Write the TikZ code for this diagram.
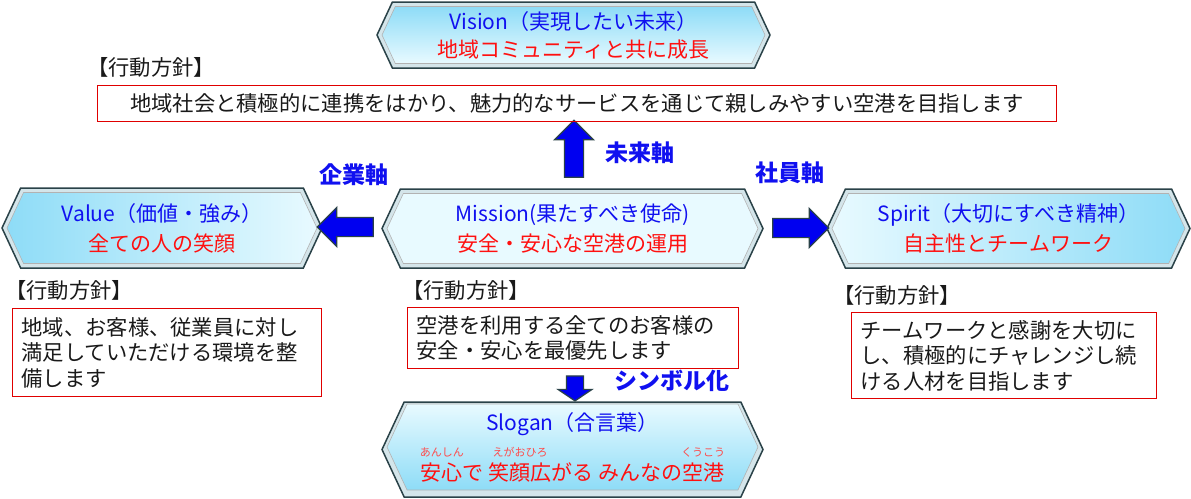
\documentclass[tikz,border=0pt]{standalone}
\usepackage{fontspec}
\setmainfont{Noto Sans CJK JP}
\usetikzlibrary{shapes.symbols, shapes.arrows, positioning}

\definecolor{hexblue}{HTML}{8EDCF7}
\definecolor{hexlight}{HTML}{E8FAFF}
\definecolor{bevel}{HTML}{D4E5EA}
\definecolor{rimdark}{HTML}{2A4248}
\definecolor{txtblue}{HTML}{1010F0}
\definecolor{txtred}{HTML}{FF1010}
\definecolor{rubyred}{HTML}{FF4A4A}
\definecolor{boxred}{HTML}{E00000}
\definecolor{arrowblue}{HTML}{0000F0}

% reading above a base word
\newcommand{\furi}[2]{\leavevmode\setbox0\hbox{#1}\rlap{\hbox to\wd0{\hss\raisebox{1.12em}{\fontsize{11}{11}\selectfont\textcolor{rubyred}{#2}}\hss}}\box0}

\begin{document}
\begin{tikzpicture}[x=1pt,y=-1pt,
	hexrim/.style={signal,signal to=east and west,signal pointer angle=130,draw=rimdark,line width=1.5pt,fill=bevel,inner sep=0pt},
	hexin/.style={signal,signal to=east and west,signal pointer angle=130,draw=gray!60,line width=0.6pt,inner sep=0pt,align=center,font=\fontsize{21}{28}\selectfont},
	blockarrow/.style={single arrow,fill=arrowblue,draw=rimdark,line width=1.2pt,inner xsep=0pt,inner ysep=9pt,single arrow head extend=10pt},
	policybox/.style={rectangle,draw=boxred,line width=1pt,anchor=north west,inner xsep=9pt,inner ysep=0pt,align=left,font=\fontsize{21.3}{25.5}\selectfont,text=black!90},
	policylabel/.style={anchor=west,inner sep=0pt,font=\fontsize{21.3}{25}\selectfont,text=black!90},
	axislabel/.style={font=\fontsize{23}{25}\selectfont\bfseries,text=txtblue,inner sep=0pt}]
	\useasboundingbox (0,0) rectangle (1191,498);

	% hexagons
	\node[hexrim,minimum width=393pt,minimum height=66pt] (visionrim) at (573.5,35) {};
	\node[hexin,minimum width=383pt,minimum height=57pt,top color=hexblue,bottom color=hexlight] (vision) at (573.5,35) {\textcolor{txtblue}{Vision（実現したい未来）}\\\textcolor{txtred}{地域コミュニティと共に成長}};

	\node[hexrim,minimum width=381pt,minimum height=79pt] (missionrim) at (572.5,228.5) {};
	\node[hexin,minimum width=371pt,minimum height=70pt,left color=hexlight,middle color=hexblue,right color=hexlight] (mission) at (572.5,228.5) {\textcolor{txtblue}{Mission(果たすべき使命)}\\[2pt]\textcolor{txtred}{安全・安心な空港の運用}};

	\node[hexrim,minimum width=320pt,minimum height=80pt] (valuerim) at (162,228) {};
	\node[hexin,minimum width=310pt,minimum height=71pt,left color=hexblue,right color=hexlight] (value) at (162,228) {\textcolor{txtblue}{Value（価値・強み）}\\[2pt]\textcolor{txtred}{全ての人の笑顔}};

	\node[hexrim,minimum width=363pt,minimum height=79pt] (spiritrim) at (1008.5,228.5) {};
	\node[hexin,minimum width=353pt,minimum height=70pt,left color=hexlight,right color=hexblue] (spirit) at (1008.5,228.5) {\textcolor{txtblue}{Spirit（大切にすべき精神）}\\[2pt]\textcolor{txtred}{自主性とチームワーク}};

	\node[hexrim,minimum width=381pt,minimum height=95pt] (sloganrim) at (572.5,449.5) {};
	\node[hexin,minimum width=371pt,minimum height=86pt,top color=hexlight,bottom color=hexblue] (slogan) at (572.5,447) {\textcolor{txtblue}{Slogan（合言葉）}\\[11pt]\textcolor{txtred}{\furi{安心}{あんしん}で \furi{笑顔広}{えがおひろ}がる みんなの\furi{空港}{くうこう}}};

	% block arrows
	\node[blockarrow,minimum height=57pt,minimum width=38pt,rotate=90] (toup) at (574,153.5) {};
	\node[blockarrow,minimum height=56pt,minimum width=38pt,rotate=180] (toleft) at (350,227) {};
	\node[blockarrow,minimum height=56pt,minimum width=38pt] (toright) at (796,228) {};
	\node[blockarrow,minimum height=25pt,minimum width=33pt,inner ysep=8pt,single arrow head extend=8.5pt,single arrow tip angle=112,rotate=-90] (todown) at (575,385.5) {};

	\node[axislabel] (futurelbl) at (640,153) {未来軸};
	\node[axislabel] (companylbl) at (354,175) {企業軸};
	\node[axislabel] (stafflbl) at (790,173) {社員軸};
	\node[axislabel] (symbollbl) at (672,381) {シンボル化};

	% policies
	\node[policylabel] (visionhead) at (87,67) {【行動方針】};
	\node[policybox,minimum width=959pt,minimum height=36pt,align=center] (visionpolicy) at (97,85) {地域社会と積極的に連携をはかり、魅力的なサービスを通じて親しみやすい空港を目指します};

	\node[policylabel] (valuehead) at (5,290) {【行動方針】};
	\node[policybox,minimum width=309pt,minimum height=88pt,text width=291pt] (valuepolicy) at (12,308) {地域、お客様、従業員に対し\\満足していただける環境を整\\備します};

	\node[policylabel] (missionhead) at (402,290) {【行動方針】};
	\node[policybox,minimum width=331pt,minimum height=61pt,text width=313pt] (missionpolicy) at (407,307) {空港を利用する全てのお客様の\\安全・安心を最優先します};

	\node[policylabel] (spirithead) at (833,295) {【行動方針】};
	\node[policybox,minimum width=305pt,minimum height=86pt,text width=287pt] (spiritpolicy) at (851,312) {チームワークと感謝を大切に\\し、積極的にチャレンジし続\\ける人材を目指します};
\end{tikzpicture}
\end{document}
